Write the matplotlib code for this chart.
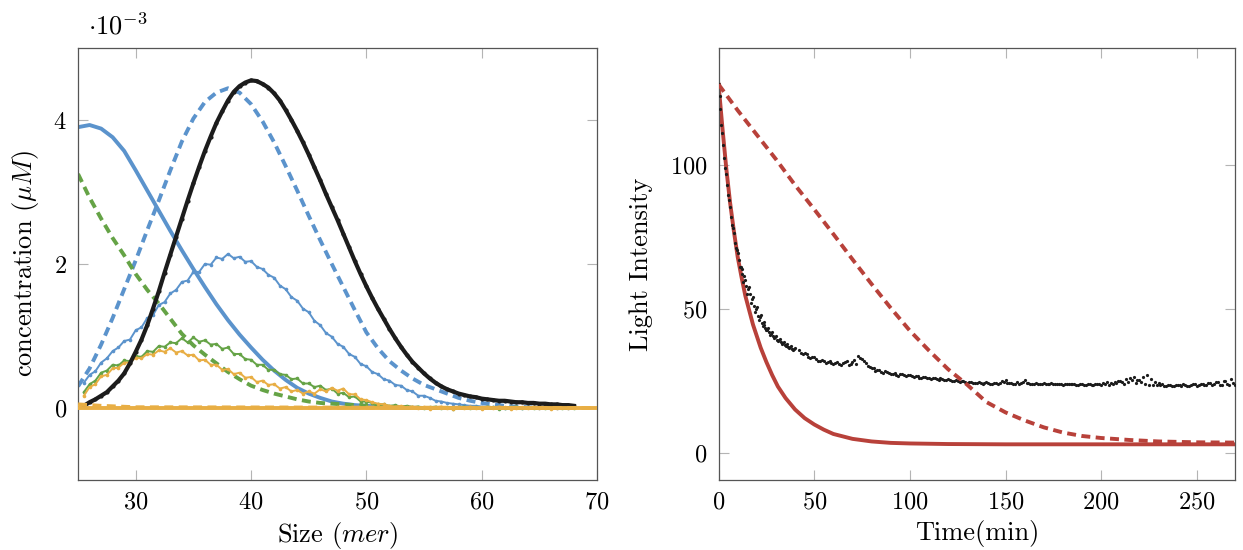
import numpy as np
import matplotlib
matplotlib.use("Agg")
import matplotlib.pyplot as plt

plt.rcParams["font.family"] = ["cmr10", "DejaVu Serif"]
plt.rcParams["mathtext.fontset"] = "cm"
plt.rcParams["axes.formatter.use_mathtext"] = True

# ── colours ──────────────────────────────────────────────────────────────────
_BLUE   = "#5b93cc"
_GREEN  = "#65a346"
_ORANGE = "#e8ae44"
_BLACK  = "#1c1c1c"
_RED    = "#b8413a"
_TICK   = "#b4b4b4"
_SPINE  = "#555555"

# ── left panel: size distribution (values in 1e-3 uM) ───────────────────────
size_grid = np.arange(25.5, 68.01, 0.5)

black_data = [
    0.03, 0.08, 0.12, 0.17, 0.22, 0.30, 0.38, 0.48, 0.62, 0.78,
    0.95, 1.15, 1.38, 1.62, 1.88, 2.13, 2.38, 2.63, 2.88, 3.12,
    3.35, 3.57, 3.77, 3.96, 4.12, 4.27, 4.39, 4.47, 4.52, 4.55,
    4.54, 4.50, 4.45, 4.37, 4.27, 4.14, 4.00, 3.85, 3.69, 3.52,
    3.34, 3.16, 2.97, 2.79, 2.61, 2.42, 2.23, 2.04, 1.86, 1.69,
    1.53, 1.38, 1.24, 1.10, 0.97, 0.85, 0.74, 0.64, 0.56, 0.48,
    0.41, 0.35, 0.30, 0.26, 0.23, 0.20, 0.18, 0.16, 0.15, 0.13,
    0.12, 0.11, 0.10, 0.10, 0.09, 0.08, 0.08, 0.07, 0.07, 0.06,
    0.06, 0.05, 0.05, 0.04, 0.04, 0.03,
]
blue_data = [
    0.35, 0.46, 0.51, 0.63, 0.69, 0.79, 0.84, 0.93, 0.95, 1.08,
    1.12, 1.25, 1.29, 1.43, 1.47, 1.59, 1.64, 1.75, 1.77, 1.89,
    1.89, 2.00, 1.99, 2.09, 2.07, 2.14, 2.08, 2.10, 2.03, 2.04,
    1.96, 1.93, 1.85, 1.81, 1.70, 1.65, 1.54, 1.49, 1.38, 1.33,
    1.21, 1.15, 1.04, 0.99, 0.89, 0.85, 0.75, 0.71, 0.61, 0.58,
    0.50, 0.47, 0.40, 0.38, 0.32, 0.31, 0.25, 0.23, 0.17, 0.17,
    0.14, 0.10, 0.09, 0.07, 0.06, 0.05, 0.04, 0.03, 0.03, 0.02,
    0.02, 0.01, 0.02, 0.00, 0.01, 0.02, 0.00, 0.01, 0.01, 0.00,
    0.02, 0.01, 0.00, 0.01, 0.00, 0.01,
]
green_data = [
    0.22, 0.33, 0.38, 0.49, 0.52, 0.60, 0.59, 0.66, 0.65, 0.72,
    0.71, 0.79, 0.78, 0.86, 0.85, 0.91, 0.90, 0.97, 0.91, 0.98,
    0.92, 0.94, 0.88, 0.89, 0.82, 0.84, 0.75, 0.75, 0.68, 0.67,
    0.60, 0.60, 0.53, 0.53, 0.47, 0.46, 0.40, 0.41, 0.34, 0.34,
    0.29, 0.31, 0.25, 0.27, 0.20, 0.21, 0.15, 0.16, 0.09, 0.09,
    0.07, 0.05, 0.05, 0.03, 0.04, 0.02, 0.03, 0.01, 0.02, 0.00,
    0.01, 0.02, 0.00, 0.01, -0.01, 0.01, 0.02, 0.00, 0.01, 0.00,
    0.02, 0.01, -0.01, 0.00, 0.01, 0.02, 0.00, 0.01, 0.00, 0.01,
    0.00, 0.02, 0.01, 0.00, 0.01, 0.00,
]
orange_data = [
    0.17, 0.29, 0.33, 0.44, 0.46, 0.55, 0.56, 0.63, 0.63, 0.70,
    0.69, 0.75, 0.74, 0.80, 0.78, 0.83, 0.77, 0.79, 0.73, 0.74,
    0.66, 0.67, 0.60, 0.60, 0.53, 0.54, 0.47, 0.49, 0.42, 0.43,
    0.36, 0.38, 0.32, 0.33, 0.27, 0.29, 0.23, 0.25, 0.20, 0.23,
    0.20, 0.26, 0.23, 0.28, 0.24, 0.27, 0.19, 0.19, 0.12, 0.11,
    0.08, 0.06, 0.05, 0.03, 0.02, 0.03, 0.01, 0.02, 0.00, 0.01,
    -0.01, 0.01, 0.02, 0.00, -0.01, 0.01, 0.00, 0.02, 0.00, -0.01,
    0.01, 0.00, 0.02, 0.01, -0.01, 0.00, 0.01, 0.00, 0.02, 0.00,
    0.01, -0.01, 0.00, 0.01, 0.00, 0.01,
]

blue_fit_x = [25, 26, 27, 28, 29, 30, 31, 32, 33, 34, 35, 36, 37, 38, 39, 40,
              41, 42, 43, 44, 45, 46, 47, 48, 49, 50, 52, 55, 60, 65, 68]
blue_fit_y = [3.90, 3.93, 3.88, 3.76, 3.57, 3.30, 3.02, 2.74, 2.46, 2.19, 1.93,
              1.68, 1.44, 1.22, 1.02, 0.84, 0.67, 0.52, 0.39, 0.28, 0.20, 0.14,
              0.09, 0.06, 0.04, 0.03, 0.01, 0.0, 0.0, 0.0, 0.0]

blue_model_x = [25, 26, 27, 28, 29, 30, 31, 32, 33, 34, 35, 36, 37, 38, 39, 40,
                41, 42, 43, 44, 45, 46, 47, 48, 49, 50, 51, 52, 53, 54, 55, 56,
                57, 58, 59, 60, 62, 64, 66, 68]
blue_model_y = [0.30, 0.55, 0.88, 1.25, 1.65, 2.05, 2.47, 2.88, 3.30, 3.70, 4.02,
                4.25, 4.38, 4.44, 4.38, 4.22, 3.98, 3.69, 3.36, 3.02, 2.67, 2.33,
                2.00, 1.68, 1.36, 1.05, 0.83, 0.65, 0.52, 0.41, 0.32, 0.26, 0.20,
                0.14, 0.10, 0.07, 0.03, 0.01, 0.0, 0.0]

green_model_x = [25, 26, 27, 28, 29, 30, 31, 32, 33, 34, 35, 36, 37, 38, 39, 40,
                 41, 42, 43, 44, 45, 46, 47, 48, 49, 50, 52, 55, 60, 65, 68]
green_model_y = [3.25, 2.92, 2.63, 2.36, 2.12, 1.86, 1.64, 1.45, 1.24, 1.03, 0.87,
                 0.74, 0.62, 0.50, 0.40, 0.31, 0.25, 0.20, 0.16, 0.12, 0.09, 0.07,
                 0.06, 0.05, 0.04, 0.03, 0.01, 0.0, 0.0, 0.0, 0.0]

orange_model_x = [25, 27, 30, 70]
orange_model_y = [0.05, 0.03, 0.01, 0.0]
orange_fit_x = [25, 70]
orange_fit_y = [0.0, 0.0]

# ── right panel: light intensity over time ───────────────────────────────────
time_a = np.arange(0, 41, 1)
light_a = [
    128.0, 119.5, 111.0, 102.5, 97.0, 89.5, 85.5, 79.0, 76.5, 71.0,
    69.5, 64.5, 64.0, 59.5, 60.0, 55.0, 57.5, 52.0, 54.0, 49.0,
    50.5, 46.0, 48.0, 44.0, 45.5, 42.5, 43.5, 41.0, 42.0, 39.8,
    40.6, 38.7, 39.5, 37.8, 38.5, 37.0, 37.8, 36.3, 37.0, 35.6,
    36.3,
]
time_b = np.arange(0.5, 40, 1)
light_b = [
    124.0, 114.0, 107.0, 99.0, 93.0, 88.0, 82.0, 78.0, 73.0, 70.5,
    67.0, 64.5, 62.0, 61.5, 58.0, 57.0, 55.0, 53.5, 51.0, 50.0,
    47.5, 47.0, 45.0, 44.5, 43.5, 42.8, 42.0, 41.2, 40.5, 40.2,
    39.3, 39.0, 38.4, 38.1, 37.5, 37.4, 36.8, 36.6, 36.1, 35.9,
]
time_c = np.arange(42, 271, 2)
light_c = [
    35.6, 34.2, 34.3, 32.9, 33.1, 32.0, 32.3, 31.3, 31.7, 30.8,
    31.4, 30.5, 31.6, 30.4, 31.5, 30.9, 33.0, 31.8, 30.2, 29.6,
    28.4, 28.8, 27.8, 28.1, 27.2, 27.6, 26.8, 27.3, 26.5, 27.0,
    26.3, 26.7, 25.9, 26.4, 25.8, 26.1, 25.5, 25.9, 25.2, 25.6,
    24.9, 25.3, 24.6, 25.0, 24.3,
    24.6, 24.1, 24.5, 24.0, 24.4, 23.9, 24.3, 24.0, 24.8, 25.3,
    24.2, 24.0, 24.4, 24.1, 25.4, 24.3, 23.8, 24.2, 23.7, 24.1,
    23.8, 24.2, 23.7, 24.0, 23.6, 24.0, 23.7, 24.0, 23.6, 23.9,
    23.5, 23.9, 23.6, 23.9, 23.5, 23.8, 23.6, 24.0, 24.3, 24.8,
    24.0, 24.6, 25.1, 24.3, 25.4, 26.3, 27.0, 25.6, 24.7, 24.1,
    23.8, 23.3, 23.6, 23.2, 23.5, 23.1, 23.6, 23.2, 23.8, 23.3,
    23.9, 23.4, 24.2, 23.6, 24.5, 23.5, 24.8, 23.7, 25.6, 23.4,
]
time_d = np.arange(43, 270, 2)
light_d = [
    34.8, 34.5, 33.4, 33.3, 32.5, 32.0, 31.9, 31.4, 31.0, 31.2,
    30.9, 31.3, 31.8, 30.8, 32.2, 33.5, 32.4, 31.0, 29.8, 29.3,
    28.6, 28.2, 28.3, 27.6, 27.5, 27.1, 27.5, 26.9, 26.9, 26.5,
    26.6, 26.1, 26.2, 25.9, 25.7, 25.8, 25.4, 25.5, 25.4, 25.1,
    25.0, 24.8, 24.8, 24.6,
    24.4, 24.3, 24.2, 24.3, 24.1, 24.2, 24.0, 24.1, 24.3, 24.6,
    24.1, 24.2, 23.9, 24.0, 24.7, 24.2, 24.0, 23.9, 24.0, 23.9,
    23.8, 23.9, 23.8, 23.9, 23.7, 23.8, 23.7, 23.8, 23.6, 23.8,
    23.6, 23.7, 23.6, 23.7, 23.8, 24.1, 24.5, 24.3, 24.4, 24.9,
    24.6, 25.5, 25.8, 26.2, 25.1, 24.5, 24.0, 23.6, 23.5, 23.4,
    23.4, 23.3, 23.6, 23.3, 23.5, 23.4, 23.7, 23.3, 23.6, 23.8,
    23.4, 24.0, 23.6, 24.3, 23.8, 24.6, 23.5, 25.0, 23.6, 24.2,
]

fast_t = [0, 2, 4, 6, 8, 10, 12, 14, 16, 18, 20, 22, 25, 28, 31, 35, 40, 45,
          50, 55, 60, 70, 80, 90, 100, 120, 150, 200, 270]
fast_y = [128, 113, 99, 87, 77, 68, 61, 54.5, 49.5, 44.5, 40.5, 36.5, 31.5,
          27, 23, 19, 15, 12, 9.8, 8, 6.5, 4.8, 3.9, 3.4, 3.2, 3.0, 2.9, 2.9, 2.9]

slow_t = [0, 10, 20, 30, 40, 50, 60, 70, 80, 90, 100, 110, 120, 130, 140, 150,
          160, 170, 180, 190, 200, 215, 230, 250, 270]
slow_y = [128, 119, 110.5, 102, 93, 84.6, 76, 67.2, 58.6, 50.3, 42.4, 35.5, 29,
          23.6, 17.6, 14, 11.2, 8.8, 7.0, 5.8, 5.1, 4.4, 3.9, 3.6, 3.5]


def _setup_ax(ax):
    """pgfplots-like frame: thin dark box, grey inward ticks on all sides."""
    for side in ax.spines:
        ax.spines[side].set_color(_SPINE)
        ax.spines[side].set_linewidth(0.9)
    ax.tick_params(direction="in", length=7.5, width=0.8, color=_TICK,
                   top=True, right=True, labelsize=17.5, pad=8,
                   labelcolor="black")


fig = plt.figure(figsize=(12.43, 5.5), dpi=100)
ax1 = fig.add_axes([0.0628, 0.1273, 0.4175, 0.7855])
ax2 = fig.add_axes([0.5781, 0.1273, 0.4155, 0.7855])

# ── left ──
lw = 2.8
dash = (2.3, 1.4)
noisy = dict(lw=1.4, marker="o", ms=2.6, mew=0)
ax1.plot(blue_fit_x, blue_fit_y, color=_BLUE, lw=lw, zorder=2)
ax1.plot(blue_model_x, blue_model_y, color=_BLUE, lw=lw, dashes=dash, zorder=2)
ax1.plot(size_grid, blue_data, color=_BLUE, zorder=3, **noisy)
ax1.plot(green_model_x, green_model_y, color=_GREEN, lw=lw, dashes=dash, zorder=2)
ax1.plot(size_grid, green_data, color=_GREEN, zorder=3, **noisy)
ax1.plot(size_grid, orange_data, color=_ORANGE, zorder=3, **noisy)
ax1.plot(size_grid, black_data, color=_BLACK, lw=3.0, marker="o", ms=3.0,
         mew=0, zorder=4)
ax1.plot(orange_model_x, orange_model_y, color=_ORANGE, lw=lw, dashes=dash,
         zorder=5)
ax1.plot(orange_fit_x, orange_fit_y, color=_ORANGE, lw=lw, zorder=5)

ax1.set_xlim(25, 70)
ax1.set_ylim(-1, 5)
ax1.set_xticks([30, 40, 50, 60, 70])
ax1.set_yticks([0, 2, 4])
ax1.set_xlabel(r"Size ($mer$)", fontsize=19, labelpad=5)
ax1.set_ylabel(r"concentration ($\mu M$)", fontsize=19, labelpad=9)
_setup_ax(ax1)
ax1.text(0.02, 1.03, r"$\cdot 10^{-3}$", transform=ax1.transAxes,
         fontsize=19, ha="left", va="baseline")

# ── right ──
dots = dict(ls="none", marker="o", ms=2.3, mew=0, color=_BLACK, zorder=3)
ax2.plot(time_a, light_a, **dots)
ax2.plot(time_b, light_b, **dots)
ax2.plot(time_c, light_c, **dots)
ax2.plot(time_d, light_d, **dots)
ax2.plot(fast_t, fast_y, color=_RED, lw=lw, zorder=2)
ax2.plot(slow_t, slow_y, color=_RED, lw=lw, dashes=dash, zorder=4)

ax2.set_xlim(0, 270)
ax2.set_ylim(-9.5, 140.7)
ax2.set_xticks([0, 50, 100, 150, 200, 250])
ax2.set_yticks([0, 50, 100])
ax2.set_xlabel("Time(min)", fontsize=19, labelpad=5)
ax2.set_ylabel("Light Intensity", fontsize=19, labelpad=12)
_setup_ax(ax2)

fig.savefig("out.png", dpi=100, facecolor="white")
